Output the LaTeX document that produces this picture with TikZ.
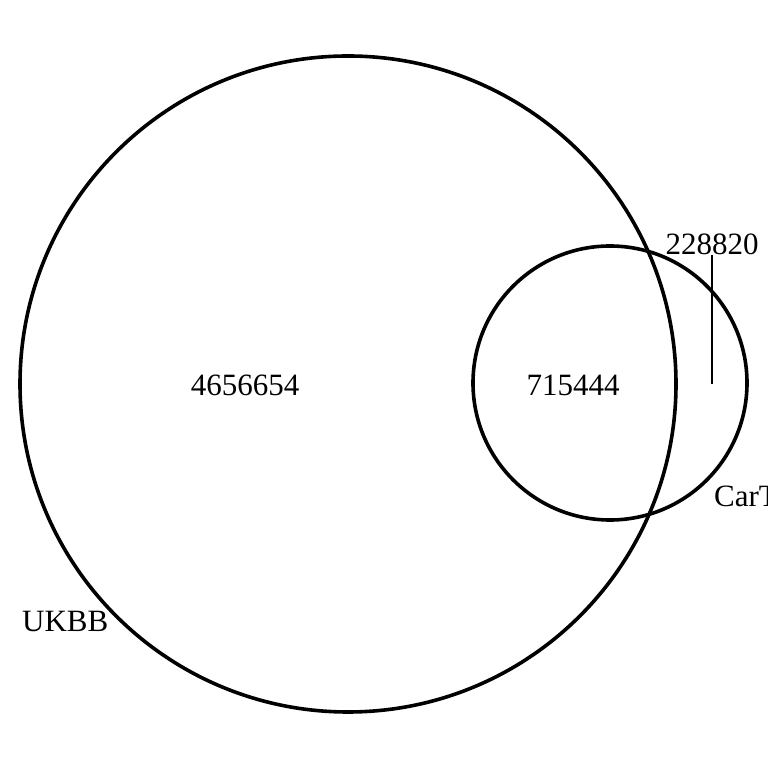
\documentclass[tikz,border=0pt]{standalone}
\usepackage{fontspec}
\setmainfont{Liberation Serif}
\begin{document}
\begin{tikzpicture}[x=1pt,y=1pt,
  setcircle/.style={draw=black,line width=3.6pt},
  lbl/.style={font=\fontsize{31}{31}\selectfont,inner sep=0pt,anchor=base},
  leader/.style={draw=black,line width=1.5pt}]
\useasboundingbox (0,0) rectangle (768,768);
\clip (0,0) rectangle (768,768);
\draw[setcircle] (348,384) circle (328);
\draw[setcircle] (610,385) circle (137);
\node[lbl] (a) at (245,372) {4656654};
\node[lbl] (b) at (573,372) {715444};
\node[lbl] (c) at (712,513) {228820};
\coordinate (cend) at (712,384);
\coordinate (ctop) at (712,513);
\draw[leader] (ctop) -- (cend);
\node[lbl,anchor=base west] (d) at (714,261) {CarTaGENE};
\node[lbl,anchor=base west] (e) at (22,136) {UKBB};
\end{tikzpicture}
\end{document}
